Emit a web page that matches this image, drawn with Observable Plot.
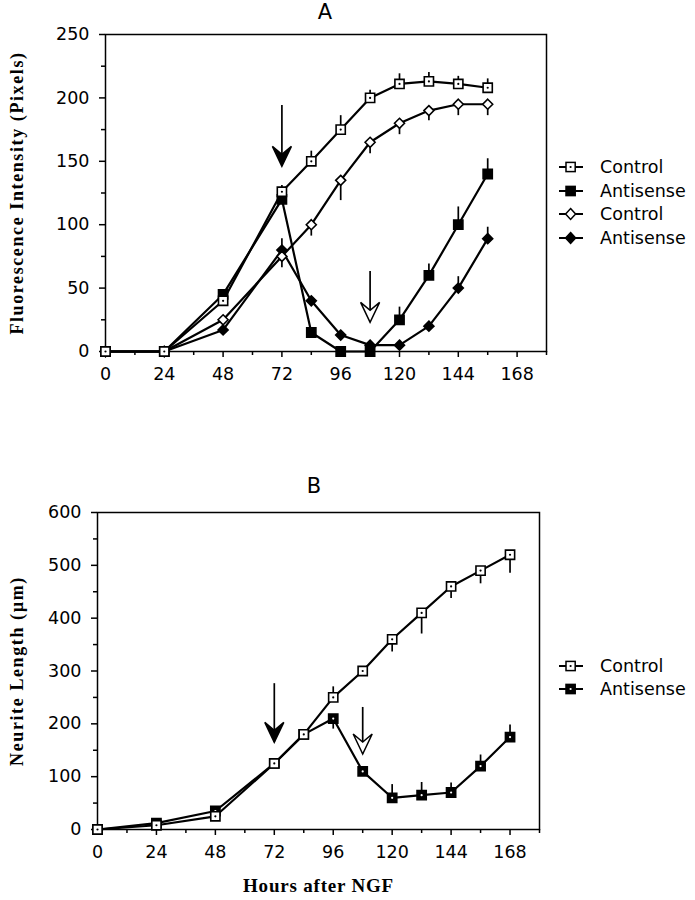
<!DOCTYPE html>
<html><head><meta charset="utf-8">
<script src="https://cdn.jsdelivr.net/npm/d3@7"></script>
<script src="https://cdn.jsdelivr.net/npm/@observablehq/plot@0.6"></script>
<style>
body{margin:0;background:#fff;}
#wrap{position:relative;width:695px;height:900px;overflow:hidden;font-family:"DejaVu Sans";background:#fff;}
.abs{position:absolute;}
.title{font-family:"DejaVu Sans";font-size:21px;line-height:21px;transform:translateX(-50%);}
.leg{font-family:"DejaVu Sans";font-size:17.5px;display:flex;align-items:center;height:24px;line-height:24px;}
.leg svg{margin-right:14px;}
svg [aria-label="y-axis label"] text{font-family:"Liberation Serif";font-weight:bold;font-size:18px;letter-spacing:1.6px;}
svg [aria-label="x-axis label"] text{font-family:"Liberation Serif";font-weight:bold;font-size:19px;letter-spacing:0.8px;}
</style></head>
<body><div id="wrap"></div>
<script>
// ---------- Panel A data ----------
const hoursA = [0, 24, 48, 72, 84, 96, 108, 120, 132, 144, 156];
const controlSquareA   = [0, 0, 40, 126, 150, 175, 200, 211, 213, 211, 208];
const controlSquareErrA= [0, 0, 0, 5, 8, 11, 6, 8, 7, 6, 7];
const antisenseSquareA = [0, 0, 45, 120, 15, 0, 0, 25, 60, 100, 140];
const antisenseSquareErrA = [0, 0, 0, 0, 0, 0, 0, 10, 9, 14, 12];
const controlDiamondA  = [0, 0, 25, 75, 100, 135, 165, 180, 190, 195, 195];
const controlDiamondErrA = [0, 0, 0, -9, -9, -16, -9, -9, -8, -9, -9];
const antisenseDiamondA= [0, 0, 17, 80, 40, 13, 5, 5, 20, 50, 89];
const antisenseDiamondErrA = [0, 0, 0, 9, 0, 0, 0, 0, 0, 9, 9];
const arrowXA = [72, 108];
const arrowTopA = [194, 63];
const arrowTipA = [146, 23];
const arrowKindA = ["solid", "open"];
const xTicks = [0, 24, 48, 72, 96, 120, 144, 168];
const xMinorTicks = [12, 36, 60, 84, 108, 132, 156, 180];
const yTicksA = [0, 50, 100, 150, 200, 250];
const yMinorTicksA = [25, 75, 125, 175, 225];
const legendLabelsA = ["Control", "Antisense", "Control", "Antisense"];

// ---------- Panel B data ----------
const hoursB = [0, 24, 48, 72, 84, 96, 108, 120, 132, 144, 156, 168];
const controlB    = [0, 8, 25, 125, 180, 250, 300, 360, 410, 460, 490, 520];
const controlErrB = [0, 0, 0, 0, 0, 20, 0, -24, -40, -23, -25, -35];
const antisenseB    = [0, 12, 35, 125, 180, 210, 110, 60, 65, 70, 120, 175];
const antisenseErrB = [0, 0, 0, 0, 0, -20, 0, 25, 24, 18, 21, 23];
const arrowXB = [72, 108];
const arrowTopB = [276, 231];
const arrowTipB = [165, 143];
const arrowKindB = ["solid", "open"];
const yTicksB = [0, 100, 200, 300, 400, 500, 600];
const yMinorTicksB = [50, 150, 250, 350, 450, 550];
const legendLabelsB = ["Control", "Antisense"];

// ---------- symbols ----------
const rad = s => Math.sqrt(s / Math.PI);
const sqSym = {draw(c, s){const r = rad(s); c.moveTo(-r,-r); c.lineTo(r,-r); c.lineTo(r,r); c.lineTo(-r,r); c.closePath();}};
const diSym = {draw(c, s){const r = rad(s); c.moveTo(0,-r); c.lineTo(r,0); c.lineTo(0,r); c.lineTo(-r,0); c.closePath();}};
const headSym = {draw(c, s){const r = rad(s); const h = r*2.1; c.moveTo(0,0); c.lineTo(-r,-h); c.lineTo(0,-h*0.6); c.lineTo(r,-h); c.closePath();}};

const rows = (h, v, e) => h.map((x, i) => ({h: x, v: v[i], e: e[i]}));
const arrows = (x, t, p, k) => x.map((d, i) => ({x: d, top: t[i], tip: p[i], kind: k[i]}));

function seriesMarks(data, sym, r, fill, dotFill, lw) {
  const m = [
    Plot.line(data, {x: "h", y: "v", stroke: "black", strokeWidth: lw}),
    Plot.ruleX(data.filter(d => d.e !== 0), {x: "h", y1: "v", y2: d => d.v + d.e, stroke: "black", strokeWidth: 1.7}),
    Plot.dot(data, {x: "h", y: "v", symbol: sym, r, fill, stroke: "black", strokeWidth: 1.6})
  ];
  if (dotFill) m.push(Plot.dot(data, {x: "h", y: "v", r: 1.1, fill: dotFill, stroke: "none"}));
  return m;
}
function arrowMarks(data) {
  return [
    Plot.ruleX(data, {x: "x", y1: "top", y2: "tip", stroke: "black", strokeWidth: 1.7}),
    Plot.dot(data, {x: "x", y: "tip", symbol: headSym, r: 9.5, fill: d => d.kind === "solid" ? "black" : "white", stroke: "black", strokeWidth: 1.5})
  ];
}
function axes(yT, yM, label, off) {
  return [
    Plot.axisX({ticks: xTicks, tickSize: 6, tickPadding: 10, label: null, strokeWidth: 1.5}),
    Plot.axisX({ticks: xMinorTicks, tickSize: 4, fill: "none", label: null, strokeWidth: 1.5}),
    Plot.axisY({ticks: yT, tickSize: 6, tickPadding: 10, label, labelAnchor: "center", labelArrow: "none", labelOffset: off, strokeWidth: 1.5}),
    Plot.axisY({ticks: yM, tickSize: 4, fill: "none", label: null, strokeWidth: 1.5}),
    Plot.frame({stroke: "black", strokeWidth: 1.5})
  ];
}

const wrap = document.getElementById("wrap");
function place(el, left, top) { el.classList.add("abs"); el.style.left = left + "px"; el.style.top = top + "px"; wrap.appendChild(el); return el; }

// ---------- Plot A ----------
const plotA = Plot.plot({
  width: 695, height: 400, marginLeft: 105, marginRight: 149, marginTop: 34, marginBottom: 49,
  style: {fontFamily: "DejaVu Sans", fontSize: "17.5px", background: "white", color: "black", overflow: "visible"},
  x: {domain: [0, 180]}, y: {domain: [0, 250]},
  marks: [
    ...axes(yTicksA, yMinorTicksA, "Fluorescence Intensity (Pixels)", 95),
    ...arrowMarks(arrows(arrowXA, arrowTopA, arrowTipA, arrowKindA)),
    ...seriesMarks(rows(hoursA, antisenseDiamondA, antisenseDiamondErrA), diSym, 5, "black", null, 2.2),
    ...seriesMarks(rows(hoursA, controlDiamondA, controlDiamondErrA), diSym, 5, "white", null, 2.2),
    ...seriesMarks(rows(hoursA, antisenseSquareA, antisenseSquareErrA), sqSym, 4.6, "black", null, 2.2),
    ...seriesMarks(rows(hoursA, controlSquareA, controlSquareErrA), sqSym, 4.6, "white", "black", 2.2)
  ]
});
place(plotA, 0, 0);

// ---------- Plot B ----------
const plotB = Plot.plot({
  width: 695, height: 430, marginLeft: 97, marginRight: 156, marginTop: 42, marginBottom: 71,
  style: {fontFamily: "DejaVu Sans", fontSize: "17.5px", background: "white", color: "black", overflow: "visible"},
  x: {domain: [0, 180], label: "Hours after NGF"}, y: {domain: [0, 600]},
  marks: [
    ...axes(yTicksB, yMinorTicksB, "Neurite Length (µm)", 87),
    Plot.axisX({ticks: [], tickSize: 0, label: "Hours after NGF", labelAnchor: "center", labelArrow: "none", labelOffset: 62}),
    ...arrowMarks(arrows(arrowXB, arrowTopB, arrowTipB, arrowKindB)),
    ...seriesMarks(rows(hoursB, antisenseB, antisenseErrB), sqSym, 4.6, "black", "white", 2.2),
    ...seriesMarks(rows(hoursB, controlB, controlErrB), sqSym, 4.6, "white", "black", 2.2)
  ]
});
place(plotB, 0, 470);

// ---------- titles ----------
const tA = document.createElement("div"); tA.className = "title"; tA.textContent = "A"; place(tA, 325, 2);
const tB = document.createElement("div"); tB.className = "title"; tB.textContent = "B"; place(tB, 314, 476);

// ---------- legends ----------
function legendGlyph(kind) {
  const shape = kind.startsWith("sq")
    ? '<rect x="10" y="7.4" width="9.2" height="9.2"'
    : '<path d="M14.6,6.6 L19.6,12 L14.6,17.4 L9.6,12 Z"';
  const fill = kind.endsWith("Open") ? "white" : "black";
  let s = `<svg width="30" height="24"><line x1="3" y1="12" x2="27" y2="12" stroke="black" stroke-width="2"/>${shape} fill="${fill}" stroke="black" stroke-width="1.5"/>`;
  if (kind === "sqOpen") s += '<circle cx="14.6" cy="12" r="1.1" fill="black"/>';
  if (kind === "sqFilledDot") s += '<circle cx="14.6" cy="12" r="1.1" fill="white"/>';
  return s + "</svg>";
}
function legend(labels, kinds, left, centers) {
  labels.forEach((lab, i) => {
    const d = document.createElement("div"); d.className = "leg";
    d.innerHTML = legendGlyph(kinds[i]) + "<span></span>";
    d.querySelector("span").textContent = lab;
    place(d, left, centers[i] - 12);
  });
}
legend(legendLabelsA, ["sqOpen", "sqFilled", "diOpen", "diFilled"], 556, [167, 191, 214, 238]);
legend(legendLabelsB, ["sqOpen", "sqFilledDot"], 556, [666, 689]);
</script></body></html>
